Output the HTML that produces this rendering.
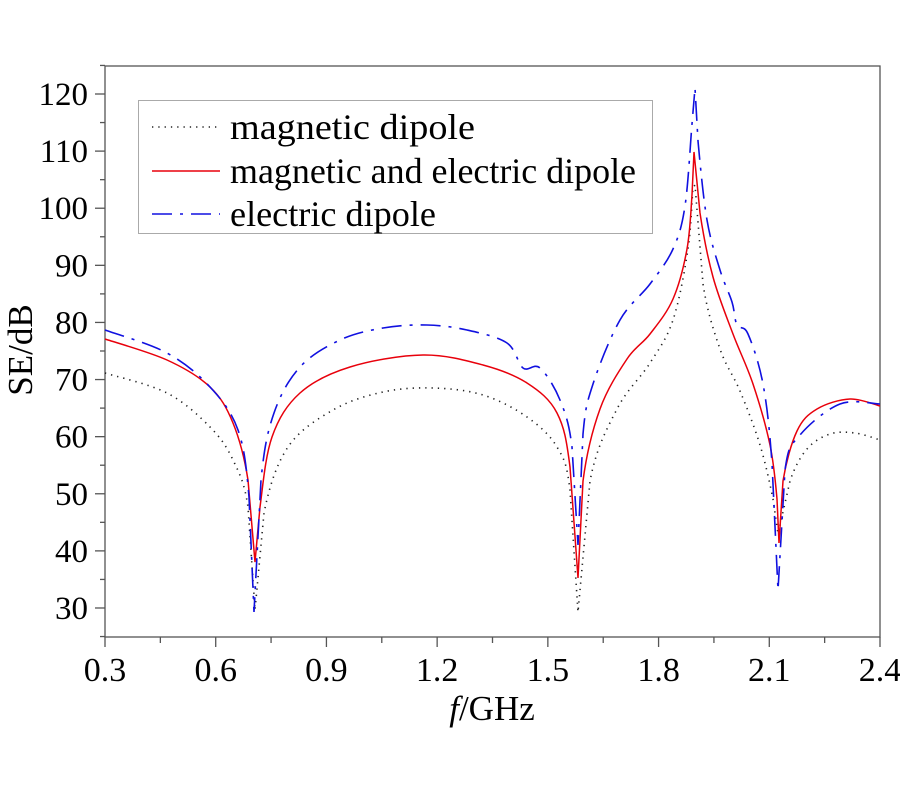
<!DOCTYPE html>
<html><head><meta charset="utf-8"><style>
html,body{margin:0;padding:0;background:#fff;width:900px;height:800px;overflow:hidden}
svg text{font-family:"Liberation Serif",serif;fill:#000}
</style></head><body>
<svg id="s" width="900" height="800" xmlns="http://www.w3.org/2000/svg">
<rect x="105" y="66" width="775" height="571" fill="none" stroke="#555" stroke-width="1.3"/>
<g id="ticks" stroke="#555" stroke-width="1.3"></g>
<g id="labels"></g>
<text x="32" y="350" font-size="35" transform="rotate(-90 32 350)" text-anchor="middle">SE/dB</text>
<text x="492" y="720" font-size="35" text-anchor="middle"><tspan font-style="italic">f</tspan>/GHz</text>
<path id="pk" fill="none" stroke="#222" stroke-width="1.6" stroke-dasharray="1.3 5"/>
<path id="pr" fill="none" stroke="#e8000b" stroke-width="1.5"/>
<path id="pb" fill="none" stroke="#1010e0" stroke-width="1.6" stroke-dasharray="20 8 3 8"/>
<rect x="138.5" y="100.5" width="514" height="133" fill="#fff" stroke="#aaa" stroke-width="1"/>
<line x1="152" y1="127" x2="220" y2="127" stroke="#222" stroke-width="1.5" stroke-dasharray="1.3 5"/>
<line x1="152" y1="171" x2="220" y2="171" stroke="#e8000b" stroke-width="1.5"/>
<line x1="152" y1="214" x2="220" y2="214" stroke="#1010e0" stroke-width="1.6" stroke-dasharray="20 8 3 8"/>
<text x="230" y="139" font-size="36" textLength="245" lengthAdjust="spacingAndGlyphs">magnetic dipole</text>
<text x="230" y="183" font-size="36" textLength="406" lengthAdjust="spacingAndGlyphs">magnetic and electric dipole</text>
<text x="230" y="226" font-size="36" textLength="206" lengthAdjust="spacingAndGlyphs">electric dipole</text>
</svg>
<script>
var t=document.getElementById('ticks'),l=document.getElementById('labels'),ns='http://www.w3.org/2000/svg';
function el(p,n,a,txt){var e=document.createElementNS(ns,n);for(var k in a)e.setAttribute(k,a[k]);if(txt)e.textContent=txt;p.appendChild(e);}
function Y(v){return 94+(120-v)*5.711;}
function X(f){return 105+(f-0.3)/2.1*775;}
for(var v=25;v<=125;v+=5){var y=Y(v),maj=v%10==0;el(t,'line',{x1:105,x2:maj?95:100,y1:y,y2:y});if(maj)el(l,'text',{x:88,y:y+11,'text-anchor':'end','font-size':33},''+v);}
for(var i=0;i<=14;i++){var f=0.3+i*0.15,x=X(f),maj=i%2==0;el(t,'line',{x1:x,x2:x,y1:637,y2:maj?647:643});if(maj)el(l,'text',{x:x,y:681,'text-anchor':'middle','font-size':34},f.toFixed(1));}
function cr(p){var d='M'+p[0][0]+','+p[0][1];for(var i=0;i<p.length-1;i++){var p0=p[i-1]||p[i],p1=p[i],p2=p[i+1],p3=p[i+2]||p2;
var c1=[p1[0]+(p2[0]-p0[0])/6,p1[1]+(p2[1]-p0[1])/6],c2=[p2[0]-(p3[0]-p1[0])/6,p2[1]-(p3[1]-p1[1])/6];
if(p1[2]||p2[2]){c1=[p1[0]+(p2[0]-p1[0])/3,p1[1]+(p2[1]-p1[1])/3];c2=[p2[0]-(p2[0]-p1[0])/3,p2[1]-(p2[1]-p1[1])/3];}
d+='C'+c1+' '+c2+' '+p2[0]+','+p2[1];}return d;}
var R=[[105,339],[167,360],[210,387],[233,423],[248,480],[255,562,1],[260,507],[272,437],[300,393],[350,367],[423,355],[483,365],[527,383],[557,413],[570,467],[578,578,1],[583,481],[600,409],[627,359],[650,334],[673,299],[687,249],[692,195],[694,152,1],[700,213],[713,277],[733,334],[753,384],[770,445],[777,499],[779,543,1],[783,481],[797,431],[817,409],[850,399],[880,406]];
var K=[[105,373],[167,393],[210,427],[233,460],[248,507],[255,610,1],[264,513],[288,447],[333,410],[383,392],[433,388],[483,395],[527,417],[557,447],[570,490],[578,612,1],[590,481],[617,409],[650,363],[673,320],[688,249],[693,188],[695,185,1],[703,284],[720,349],[740,391],[760,445],[773,499],[778,534,1],[790,481],[807,449],[830,434],[855,433],[880,440]];
var B=[[105,330],[167,353],[210,387],[238,430],[249,497],[254,612,1],[261,480],[274,413],[300,367],[340,340],[383,328],[427,325],[467,330],[507,343],[523,368],[540,368],[560,400],[572,447],[578,545,1],[583,434],[593,384],[620,320],[650,284],[673,249],[685,206],[692,124],[695,88,1],[698,141],[707,220],[720,270],[732,302],[737,325],[748,334],[763,384],[772,463],[778,590,1],[785,470],[800,435],[840,404],[880,404]];
document.getElementById('pr').setAttribute('d',cr(R));
document.getElementById('pk').setAttribute('d',cr(K));
document.getElementById('pb').setAttribute('d',cr(B));
</script>
</body></html>
